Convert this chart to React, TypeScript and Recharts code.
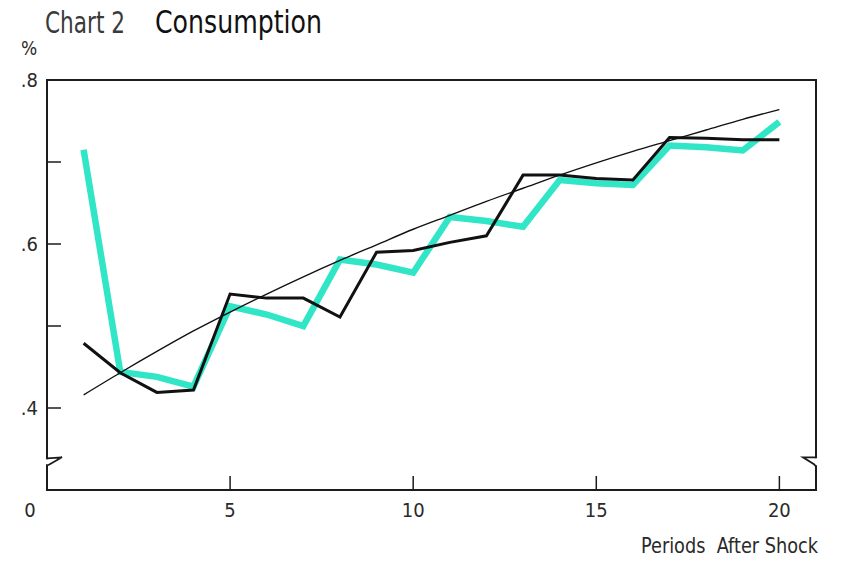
import React from 'react';
import {
  LineChart,
  Line,
  XAxis,
  YAxis,
  ReferenceArea,
  ReferenceDot,
} from 'recharts';

// periods after the shock
const periods = [1, 2, 3, 4, 5, 6, 7, 8, 9, 10, 11, 12, 13, 14, 15, 16, 17, 18, 19, 20];

// thick cyan response
const responseA = [
  0.715, 0.444, 0.438, 0.426, 0.524, 0.514, 0.5, 0.581, 0.575, 0.565,
  0.633, 0.628, 0.621, 0.678, 0.674, 0.672, 0.72, 0.718, 0.714, 0.749,
];

// black response
const responseB = [
  0.479, 0.443, 0.419, 0.422, 0.539, 0.534, 0.534, 0.511, 0.59, 0.592,
  0.602, 0.61, 0.684, 0.684, 0.68, 0.678, 0.73, 0.729, 0.727, 0.727,
];

// thin smooth curve
const fitted = [
  0.416, 0.443, 0.469, 0.494, 0.517, 0.539, 0.56, 0.58, 0.599, 0.618,
  0.635, 0.652, 0.668, 0.684, 0.699, 0.713, 0.726, 0.739, 0.752, 0.764,
];

const xTicks = [0, 5, 10, 15, 20];
const yTicks = [0.4, 0.5, 0.6, 0.7, 0.8];
const yLabelled = [0.4, 0.6, 0.8];
const axisBreak = 0.335;

const data = periods.map((p, i) => ({
  period: p,
  a: responseA[i],
  b: responseB[i],
  fit: fitted[i],
}));

const FONT = '"Liberation Sans Narrow", "DejaVu Sans Condensed", "Liberation Sans", sans-serif';
const INK = '#1c1c1c';

const XTick = (props: any) => {
  const { x, y, payload } = props;
  const v = payload.value;
  return (
    <g>
      {v !== 0 && <line x1={x} x2={x} y1={y} y2={y - 14} stroke={INK} strokeWidth={1.5} />}
      <text
        x={v === 0 ? x - 17 : x}
        y={y + 27}
        textAnchor="middle"
        fontFamily={FONT}
        fontSize={20}
        fill="#2a2a2a"
      >
        {v}
      </text>
    </g>
  );
};

const LeftTick = (props: any) => {
  const { x, y, payload } = props;
  const v = payload.value;
  return (
    <g>
      {v < 0.8 && <line x1={x} x2={x + 14} y1={y} y2={y} stroke={INK} strokeWidth={1.5} />}
      {yLabelled.includes(v) && (
        <text x={x - 9} y={y + 7} textAnchor="end" fontFamily={FONT} fontSize={20} fill="#2a2a2a">
          {v.toFixed(1).replace(/^0/, '')}
        </text>
      )}
    </g>
  );
};

const RightTick = (props: any) => {
  const { x, y, payload } = props;
  if (payload.value >= 0.8) return <g />;
  return <line x1={x} x2={x - 14} y1={y} y2={y} stroke={INK} strokeWidth={1.5} />;
};

const LeftBreak = (props: any) => {
  const { cx, cy } = props;
  return (
    <g>
      <line x1={cx} x2={cx} y1={cy - 2} y2={cy + 3} stroke="#fff" strokeWidth={4} />
      <path
        d={`M${cx},${cy - 3} L${cx + 15},${cy - 4} L${cx + 1},${cy + 4}`}
        fill="none"
        stroke={INK}
        strokeWidth={1.8}
      />
    </g>
  );
};

const RightBreak = (props: any) => {
  const { cx, cy } = props;
  return (
    <g>
      <line x1={cx} x2={cx} y1={cy - 3} y2={cy + 4} stroke="#fff" strokeWidth={4} />
      <path
        d={`M${cx},${cy - 4} L${cx - 13},${cy - 4} L${cx - 2},${cy + 3} L${cx},${cy + 5}`}
        fill="none"
        stroke={INK}
        strokeWidth={1.8}
      />
    </g>
  );
};

export default function App() {
  return (
    <div style={{ position: 'absolute', left: 0, top: 0, width: 842, height: 561, background: '#fff' }}>
      <LineChart
        width={842}
        height={561}
        data={data}
        margin={{ top: 80, right: 25, bottom: 0, left: 0 }}
      >
        <XAxis
          dataKey="period"
          type="number"
          domain={[0, 21]}
          ticks={xTicks}
          interval={0}
          height={71}
          tickSize={0}
          tickMargin={0}
          axisLine={false}
          tickLine={false}
          tick={<XTick />}
        />
        <YAxis
          yAxisId="left"
          type="number"
          domain={[0.3, 0.8]}
          ticks={yTicks}
          interval={0}
          width={47}
          tickSize={0}
          tickMargin={0}
          axisLine={false}
          tickLine={false}
          tick={<LeftTick />}
        />
        <YAxis
          yAxisId="right"
          orientation="right"
          type="number"
          domain={[0.3, 0.8]}
          ticks={yTicks}
          interval={0}
          width={1}
          tickSize={0}
          tickMargin={0}
          axisLine={false}
          tickLine={false}
          tick={<RightTick />}
        />
        <ReferenceArea
          yAxisId="left"
          x1={0}
          x2={21}
          y1={0.3}
          y2={0.8}
          fill="none"
          stroke={INK}
          strokeWidth={2}
          ifOverflow="visible"
        />
        <ReferenceDot yAxisId="left" x={0} y={axisBreak} r={1} shape={<LeftBreak />} ifOverflow="visible" />
        <ReferenceDot yAxisId="left" x={21} y={axisBreak} r={1} shape={<RightBreak />} ifOverflow="visible" />
        <Line
          yAxisId="left"
          type="linear"
          dataKey="a"
          stroke="#30e6c6"
          strokeWidth={6.5}
          dot={false}
          isAnimationActive={false}
        />
        <Line
          yAxisId="left"
          type="linear"
          dataKey="b"
          stroke="#111"
          strokeWidth={3}
          dot={false}
          isAnimationActive={false}
        />
        <Line
          yAxisId="left"
          type="monotone"
          dataKey="fit"
          stroke="#111"
          strokeWidth={1.4}
          dot={false}
          isAnimationActive={false}
        />
      </LineChart>
      <svg
        width={842}
        height={561}
        style={{ position: 'absolute', left: 0, top: 0, pointerEvents: 'none' }}
      >
        <text x={45} y={33} fontFamily={FONT} fontSize={30} fill="#3a3a3a" textLength={80} lengthAdjust="spacingAndGlyphs">
          Chart 2
        </text>
        <text x={155} y={33} fontFamily={FONT} fontSize={32} fill="#111" textLength={167} lengthAdjust="spacingAndGlyphs">
          Consumption
        </text>
        <text x={21} y={55} fontFamily={FONT} fontSize={19} fill="#2a2a2a">
          %
        </text>
        <text
          x={641}
          y={553}
          fontFamily={FONT}
          fontSize={22}
          fill="#2a2a2a"
          textLength={177}
          lengthAdjust="spacingAndGlyphs"
          style={{ whiteSpace: 'pre' }}
        >
          {'Periods  After Shock'}
        </text>
      </svg>
    </div>
  );
}
